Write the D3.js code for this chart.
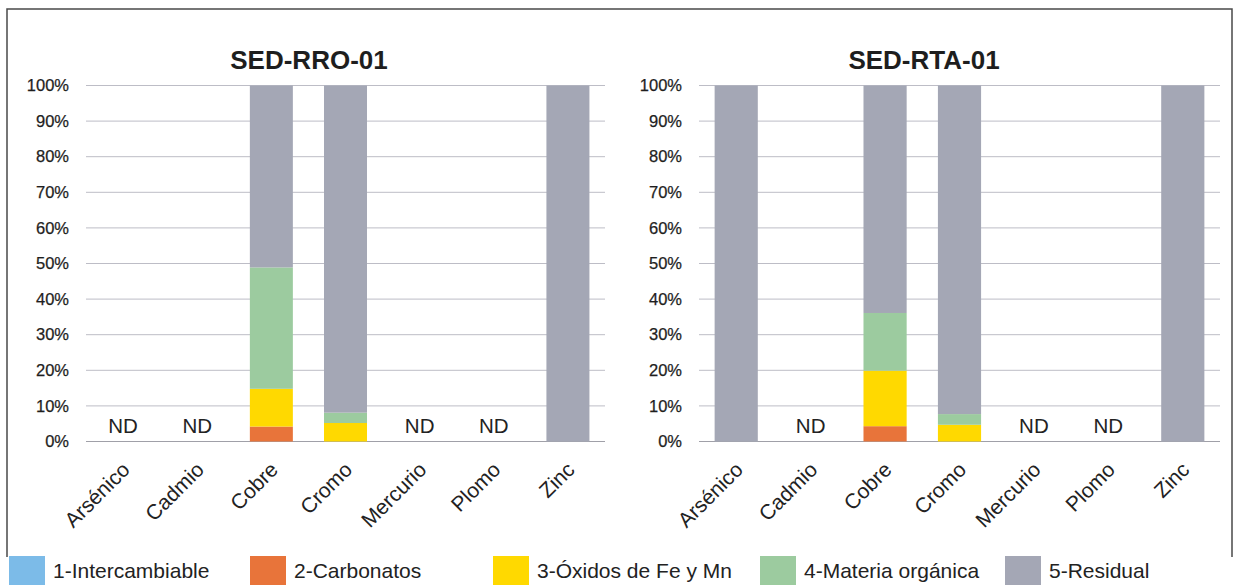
<!DOCTYPE html>
<html>
<head>
<meta charset="utf-8">
<script src="https://cdn.jsdelivr.net/npm/d3@7"></script>
<style>
  body { margin: 0; background: #fff; }
  svg { display: block; font-family: "Liberation Sans", Arial, sans-serif; }
</style>
</head>
<body>
<div id="chart"></div>
<script>
// categories (metals) and fractions
var metals = ["Arsénico", "Cadmio", "Cobre", "Cromo", "Mercurio", "Plomo", "Zinc"];
var fractions = ["1-Intercambiable", "2-Carbonatos", "3-Óxidos de Fe y Mn", "4-Materia orgánica", "5-Residual"];
var fractionColors = ["#7cbbe8", "#e8743a", "#ffd900", "#9ccb9f", "#a4a7b5"];

// SED-RRO-01 (% of total)
var rroIntercambiable = [0, 0, 0, 0, 0, 0, 0];
var rroCarbonatos     = [0, 0, 4.2, 0, 0, 0, 0];
var rroOxidos         = [0, 0, 10.6, 5.2, 0, 0, 0];
var rroMateria        = [0, 0, 34.1, 2.9, 0, 0, 0];
var rroResidual       = [0, 0, 51.1, 91.9, 0, 0, 100];

// SED-RTA-01 (% of total)
var rtaIntercambiable = [0, 0, 0, 0, 0, 0, 0];
var rtaCarbonatos     = [0, 0, 4.3, 0, 0, 0, 0];
var rtaOxidos         = [0, 0, 15.6, 4.7, 0, 0, 0];
var rtaMateria        = [0, 0, 16.2, 3.0, 0, 0, 0];
var rtaResidual       = [100, 0, 63.9, 92.3, 0, 0, 100];

var yTicks = [0, 10, 20, 30, 40, 50, 60, 70, 80, 90, 100];
var ndLabel = "ND";

var W = 1237, H = 585;
var svg = d3.select("#chart").append("svg")
  .attr("width", W)
  .attr("height", H);

// frame (open at the bottom where the legend sits)
svg.append("path")
  .attr("d", "M7,557 L7,9 L1232,9 L1232,557")
  .attr("fill", "none")
  .attr("stroke", "#4a4a4a")
  .attr("stroke-width", 1.5);

function buildRows(series) {
  return metals.map(function(m, i) {
    var row = { metal: m };
    fractions.forEach(function(f, k) { row[f] = series[k][i]; });
    return row;
  });
}

function drawPanel(title, series, x0, x1, titleX) {
  var rows = buildRows(series);
  var g = svg.append("g");

  var x = d3.scaleBand().domain(metals).range([x0, x1]).paddingInner(0.42).paddingOuter(0.21);
  var y = d3.scaleLinear().domain([0, 100]).range([441.5, 85.5]);

  // gridlines
  g.selectAll("line.grid").data(yTicks).enter().append("line")
    .attr("class", "grid")
    .attr("x1", x0).attr("x2", x1)
    .attr("y1", function(d) { return y(d); })
    .attr("y2", function(d) { return y(d); })
    .attr("stroke", function(d) { return d === 0 ? "#a0a0a8" : "#bdbdc6"; })
    .attr("stroke-width", 1);

  // y axis labels
  var yAxis = d3.axisLeft(y).tickValues(yTicks)
    .tickFormat(function(d) { return d + "%"; })
    .tickSize(0).tickPadding(17);
  g.append("g").attr("transform", "translate(" + x0 + ",0)").call(yAxis)
    .call(function(a) {
      a.select(".domain").remove();
      a.selectAll("text").attr("font-size", 16.5).attr("fill", "#1e1e1e")
        .attr("stroke", "#1e1e1e").attr("stroke-width", 0.25)
        .attr("font-family", "Liberation Sans, Arial, sans-serif");
    });

  // stacked bars
  var stack = d3.stack().keys(fractions);
  var layers = stack(rows);
  g.selectAll("g.layer").data(layers).enter().append("g")
    .attr("class", "layer")
    .attr("fill", function(d, i) { return fractionColors[i]; })
    .selectAll("rect").data(function(d) { return d; }).enter().append("rect")
    .attr("x", function(d) { return x(d.data.metal); })
    .attr("width", x.bandwidth())
    .attr("y", function(d) { return y(d[1]); })
    .attr("height", function(d) { return y(d[0]) - y(d[1]); });

  // ND labels where no fraction was determined
  g.selectAll("text.nd").data(rows.filter(function(r) {
      return d3.sum(fractions, function(f) { return r[f]; }) === 0;
    })).enter().append("text")
    .attr("class", "nd")
    .attr("x", function(d) { return x(d.metal) + x.bandwidth() / 2; })
    .attr("y", 433)
    .attr("text-anchor", "middle")
    .attr("font-size", 20.5)
    .attr("fill", "#222")
    .text(ndLabel);

  // x axis labels, rotated
  g.selectAll("text.cat").data(metals).enter().append("text")
    .attr("class", "cat")
    .attr("transform", function(d) {
      return "translate(" + (x(d) + x.bandwidth() / 2 + 8) + ",471) rotate(-45)";
    })
    .attr("text-anchor", "end")
    .attr("font-size", 21)
    .attr("fill", "#222")
    .text(function(d) { return d; });

  // title
  g.append("text")
    .attr("x", titleX).attr("y", 69)
    .attr("text-anchor", "middle")
    .attr("font-size", 26)
    .attr("font-weight", "bold")
    .attr("fill", "#1e1e1e")
    .text(title);
}

drawPanel("SED-RRO-01", [rroIntercambiable, rroCarbonatos, rroOxidos, rroMateria, rroResidual], 86, 605, 309);
drawPanel("SED-RTA-01", [rtaIntercambiable, rtaCarbonatos, rtaOxidos, rtaMateria, rtaResidual], 699, 1220, 924);

// legend
var legendX = [9, 250, 493, 760, 1005];
var leg = svg.append("g").selectAll("g").data(fractions).enter().append("g")
  .attr("transform", function(d, i) { return "translate(" + legendX[i] + ",556)"; });
leg.append("rect")
  .attr("width", 36).attr("height", 32)
  .attr("fill", function(d, i) { return fractionColors[i]; });
leg.append("text")
  .attr("x", 44).attr("y", 22)
  .attr("font-size", 21)
  .attr("fill", "#222")
  .text(function(d) { return d; });
</script>
</body>
</html>
